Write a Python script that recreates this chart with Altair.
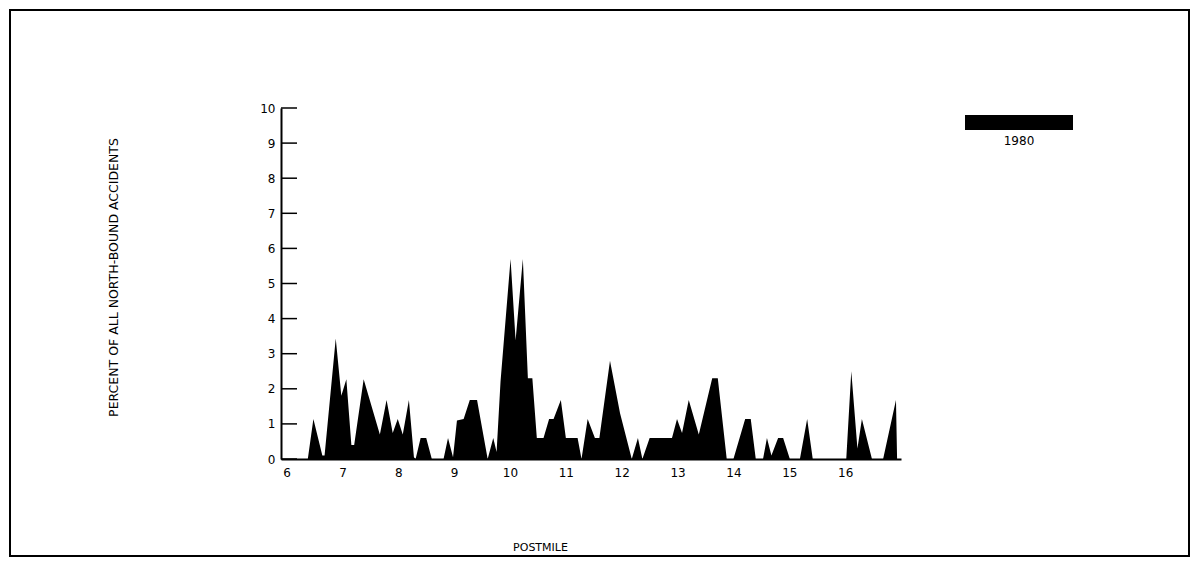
import altair as alt
import pandas as pd

# ---- data (postmile, percent) ----
postmile = [6.00, 6.38, 6.48, 6.64, 6.68, 6.88, 6.98, 7.07, 7.16, 7.21,
            7.38, 7.67, 7.79, 7.90, 7.99, 8.08, 8.19, 8.28, 8.31, 8.40,
            8.50, 8.60, 8.81, 8.89, 8.98, 9.05, 9.17, 9.28, 9.41, 9.60,
            9.70, 9.76, 9.83, 10.01, 10.10, 10.23, 10.32, 10.40, 10.48, 10.60,
            10.70, 10.78, 10.91, 11.00, 11.21, 11.28, 11.39, 11.52, 11.60, 11.79,
            11.97, 12.18, 12.29, 12.37, 12.50, 12.90, 12.99, 13.08, 13.20, 13.38,
            13.62, 13.72, 13.88, 14.00, 14.21, 14.31, 14.40, 14.53, 14.60, 14.68,
            14.80, 14.89, 15.01, 15.19, 15.32, 15.42, 16.02, 16.11, 16.22, 16.30,
            16.48, 16.68, 16.91, 16.93]
percent = [0.0, 0.0, 1.14, 0.1, 0.1, 3.43, 1.8, 2.27, 0.4, 0.4,
           2.27, 0.7, 1.68, 0.74, 1.14, 0.7, 1.68, 0.05, 0.0, 0.6,
           0.6, 0.0, 0.0, 0.6, 0.05, 1.1, 1.14, 1.68, 1.68, 0.0,
           0.6, 0.2, 2.2, 5.7, 3.38, 5.7, 2.3, 2.3, 0.6, 0.6,
           1.14, 1.14, 1.68, 0.6, 0.6, 0.0, 1.14, 0.6, 0.6, 2.8,
           1.3, 0.0, 0.6, 0.0, 0.6, 0.6, 1.14, 0.74, 1.68, 0.7,
           2.3, 2.3, 0.0, 0.0, 1.14, 1.14, 0.0, 0.0, 0.6, 0.1,
           0.6, 0.6, 0.0, 0.0, 1.14, 0.0, 0.0, 2.5, 0.3, 1.14,
           0.0, 0.0, 1.68, 0.0]
x_ticks = [6, 7, 8, 9, 10, 11, 12, 13, 14, 15, 16]
y_ticks = [0, 1, 2, 3, 4, 5, 6, 7, 8, 9, 10]
legend_labels = ["1980"]
x_title = "POSTMILE"
y_title = "PERCENT OF ALL NORTH-BOUND ACCIDENTS"

df = pd.DataFrame({"postmile": postmile, "percent": percent})
tick_df = pd.DataFrame({"percent": y_ticks})
legend_df = pd.DataFrame({"label": legend_labels})

FONT = "DejaVu Sans"
xscale = alt.Scale(domain=[5.9, 17.0], nice=False, zero=False)
yscale = alt.Scale(domain=[0, 10], nice=False)

x_axis = alt.Axis(
    values=x_ticks, title=x_title, ticks=False, grid=False,
    labelPadding=8, labelFont=FONT, labelFontSize=12, labelColor="black",
    labelFlush=False, labelOverlap=False,
    domainColor="black", domainWidth=2,
    titleFont=FONT, titleFontSize=11, titleFontWeight="normal",
    titleColor="black", titleX=259, titleY=88, titleBaseline="middle",
    titleAlign="center")
y_axis = alt.Axis(
    values=y_ticks, title=y_title, ticks=False, grid=False,
    labelPadding=6, labelFont=FONT, labelFontSize=12, labelColor="black",
    labelFlush=False, labelOverlap=False,
    domainColor="black", domainWidth=2,
    titleFont=FONT, titleFontSize=12.5, titleFontWeight="normal",
    titleColor="black", titleX=-168, titleY=169, titleAngle=-90,
    titleAlign="center", titleBaseline="middle")

frame = alt.Chart(legend_df).mark_rect(
    filled=False, stroke="black", strokeWidth=2
).encode(
    x=alt.value(-271), x2=alt.value(908), y=alt.value(-98), y2=alt.value(448)
)

area = alt.Chart(df).mark_area(
    color="black", interpolate="linear", opacity=1
).encode(
    x=alt.X("postmile:Q", scale=xscale, axis=x_axis),
    y=alt.Y("percent:Q", scale=yscale, axis=y_axis),
)

ticks = alt.Chart(tick_df).mark_rule(color="black", strokeWidth=1.5).encode(
    y=alt.Y("percent:Q", scale=yscale, axis=y_axis),
    x=alt.value(0), x2=alt.value(16),
)

legend_rect = alt.Chart(legend_df).mark_rect(color="black").encode(
    x=alt.value(684), x2=alt.value(792), y=alt.value(7), y2=alt.value(22)
)
legend_text = alt.Chart(legend_df).mark_text(
    font=FONT, fontSize=12, color="black", align="center", baseline="middle"
).encode(text="label:N", x=alt.value(738), y=alt.value(33))

chart = alt.layer(frame, area, ticks, legend_rect, legend_text).properties(
    width=620, height=351,
    padding={"left": 273, "top": 100, "right": 289, "bottom": 99},
    autosize=alt.AutoSizeParams(type="none"),
    background="white",
).configure_view(stroke=None)

chart.save("out.html", embed_options={"renderer": "svg", "actions": False})
